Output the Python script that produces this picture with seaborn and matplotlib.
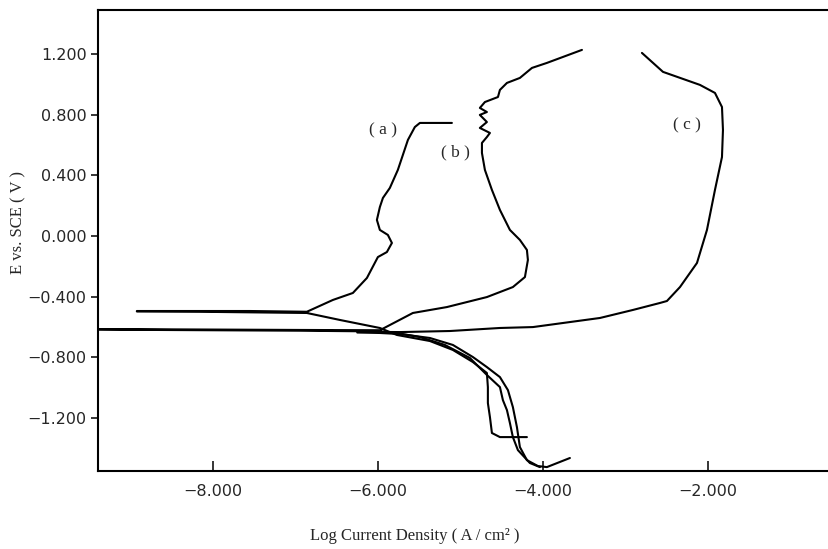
import numpy as np
import pandas as pd
import matplotlib
matplotlib.use("Agg")
import matplotlib.pyplot as plt
import seaborn as sns

# ---- data (log current density, potential vs SCE) ----
a_logi = [-4.194, -4.521, -4.618, -4.642, -4.667, -4.667, -4.679, -4.848, -5.091, -5.370,
          -5.770, -5.976, -6.461, -6.861, -8.158, -8.921, -8.921, -7.552, -6.861,
          -6.545, -6.303, -6.133, -6.000, -5.891, -5.830, -5.879, -5.976, -6.012, -5.976,
          -5.939, -5.855, -5.758, -5.697, -5.636, -5.552, -5.491, -5.309, -5.103]
a_E = [-1.327, -1.327, -1.300, -1.195, -1.102, -0.997, -0.904, -0.832, -0.752, -0.693,
       -0.653, -0.607, -0.554, -0.508, -0.500, -0.498, -0.495, -0.495, -0.500,
       -0.422, -0.376, -0.277, -0.139, -0.106, -0.046, 0.007, 0.040, 0.106, 0.191,
       0.251, 0.317, 0.436, 0.535, 0.634, 0.719, 0.746, 0.746, 0.746]

b_logi = [-4.036, -4.158, -4.303, -4.364, -4.400, -4.436, -4.485, -4.521, -4.679, -4.885,
          -5.188, -5.491, -5.770, -5.976, -6.945, -9.394, -9.394, -6.945, -5.976,
          -5.576, -5.164, -4.679, -4.364, -4.218, -4.182, -4.194, -4.279, -4.400, -4.521,
          -4.618, -4.703, -4.739, -4.739, -4.679, -4.642, -4.764, -4.679, -4.764, -4.679,
          -4.764, -4.703, -4.545, -4.521, -4.436, -4.279, -4.133, -3.952, -3.527]
b_E = [-1.525, -1.498, -1.413, -1.327, -1.234, -1.149, -1.083, -0.997, -0.917, -0.805,
       -0.719, -0.667, -0.640, -0.630, -0.625, -0.618, -0.614, -0.620, -0.622,
       -0.508, -0.469, -0.403, -0.337, -0.271, -0.158, -0.092, -0.026, 0.040, 0.172,
       0.304, 0.436, 0.548, 0.614, 0.653, 0.680, 0.713, 0.752, 0.799, 0.818,
       0.845, 0.884, 0.917, 0.964, 1.010, 1.043, 1.109, 1.142, 1.228]

c_logi = [-3.673, -3.952, -4.061, -4.194, -4.279, -4.315, -4.364, -4.424, -4.521, -4.679,
          -4.848, -5.091, -5.370, -5.733, -5.976, -6.250, -6.250, -5.976, -5.733,
          -5.127, -4.521, -4.121, -3.309, -2.909, -2.582, -2.497, -2.339, -2.133, -2.012,
          -1.915, -1.830, -1.818, -1.830, -1.915, -2.097, -2.545, -2.800]
c_E = [-1.465, -1.525, -1.518, -1.479, -1.393, -1.261, -1.129, -1.017, -0.931, -0.865,
       -0.799, -0.719, -0.673, -0.647, -0.640, -0.637, -0.632, -0.633, -0.634,
       -0.627, -0.607, -0.601, -0.541, -0.488, -0.442, -0.429, -0.337, -0.178, 0.040,
       0.304, 0.521, 0.700, 0.851, 0.944, 0.997, 1.083, 1.208]

curve_labels = ["( a )", "( b )", "( c )"]
label_x = [-5.94, -5.055, -2.255]
label_y = [0.70, 0.554, 0.733]

x_ticks = [-8.0, -6.0, -4.0, -2.0]
x_ticklabels = ["\u22128.000", "\u22126.000", "\u22124.000", "\u22122.000"]
y_ticks = [1.2, 0.8, 0.4, 0.0, -0.4, -0.8, -1.2]
y_ticklabels = ["1.200", "0.800", "0.400", "0.000", "\u22120.400", "\u22120.800", "\u22121.200"]

# ---- build table ----
frames = []
for name, xs, ys in (("a", a_logi, a_E), ("b", b_logi, b_E), ("c", c_logi, c_E)):
    frames.append(pd.DataFrame({"logi": xs, "E": ys, "curve": name, "order": range(len(xs))}))
df = pd.concat(frames, ignore_index=True)

sns.set_style("ticks")
plt.rcParams["font.family"] = ["DejaVu Sans"]

fig = plt.figure(figsize=(8.29, 5.49), dpi=100)
ax = fig.add_axes([0.118, 0.142, 0.882, 0.840])

sns.lineplot(data=df, x="logi", y="E", units="curve", estimator=None, sort=False,
             color="black", linewidth=1.5, ax=ax, legend=False)

ax.set_xlim(-9.394, -0.533)
ax.set_ylim(-1.551, 1.492)

ax.set_xticks(x_ticks)
ax.set_xticklabels(x_ticklabels, fontsize=11.5)
ax.set_yticks(y_ticks)
ax.set_yticklabels(y_ticklabels, fontsize=11.5)
ax.tick_params(axis="x", direction="in", length=7, width=1.3, pad=9)
ax.tick_params(axis="y", direction="out", length=5, width=1.3, pad=3)

for s in ("left", "bottom", "top"):
    ax.spines[s].set_linewidth(1.5)
    ax.spines[s].set_color("black")
ax.spines["right"].set_visible(False)

ax.set_xlabel("Log Current Density ( A / cm\u00b2 )", family=["Liberation Serif", "DejaVu Sans"],
              fontsize=12, va="center")
ax.xaxis.set_label_coords(0.434, -0.141)
ax.set_ylabel("E vs. SCE ( V )", family=["Liberation Serif", "DejaVu Sans"], fontsize=12,
              va="center")
ax.yaxis.set_label_coords(-0.109, 0.54)

for t, lx, ly in zip(curve_labels, label_x, label_y):
    ax.text(lx, ly, t, ha="center", va="center", fontsize=12.5, family=["Liberation Serif"])

fig.savefig("out.png", dpi=100)
